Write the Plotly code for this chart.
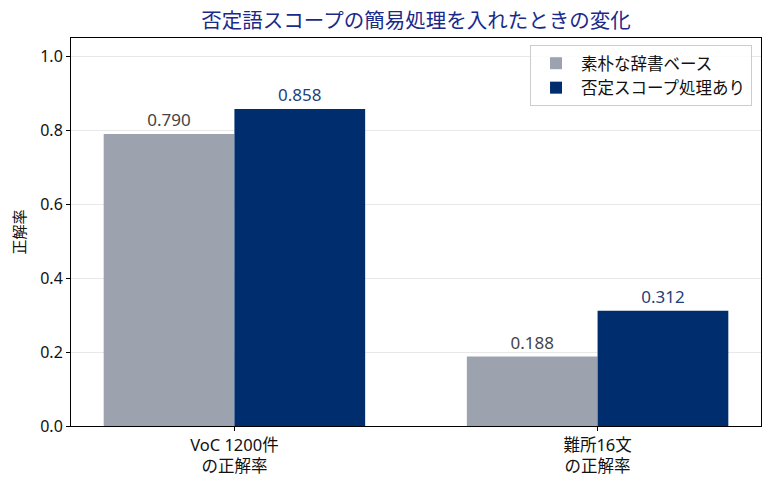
import plotly.graph_objects as go

categories = ["VoC 1200件<br>の正解率", "難所16文<br>の正解率"]
naive_values = [0.790, 0.188]
scope_values = [0.858, 0.312]
series_names = ["素朴な辞書ベース", "否定スコープ処理あり"]
y_ticks = [0.0, 0.2, 0.4, 0.6, 0.8, 1.0]

font_family = "Noto Sans, Noto Sans CJK JP, sans-serif"

fig = go.Figure()
fig.add_trace(go.Bar(
    x=categories, y=naive_values, name=series_names[0],
    marker=dict(color="#9ca3ae", line=dict(width=0)),
    text=[f"{v:.3f}" for v in naive_values], textposition="outside",
    textfont=dict(color="#444444", size=17), cliponaxis=False,
))
fig.add_trace(go.Bar(
    x=categories, y=scope_values, name=series_names[1],
    marker=dict(color="#002d6e", line=dict(width=0)),
    text=[f"{v:.3f}" for v in scope_values], textposition="outside",
    textfont=dict(color="#1f3f7a", size=17), cliponaxis=False,
))

fig.update_layout(
    width=771, height=484,
    margin=dict(l=71, r=10, t=38, b=58),
    paper_bgcolor="white", plot_bgcolor="white",
    font=dict(family=font_family, size=15, color="#111111"),
    title=dict(text="否定語スコープの簡易処理を入れたときの変化",
               xref="paper", x=0.5, xanchor="center", y=0.958, yanchor="middle",
               font=dict(size=20.5, color="#1b2a8a")),
    barmode="group", bargap=0.28, bargroupgap=0,
    legend=dict(x=0.987, y=0.982, xanchor="right", yanchor="top",
                bgcolor="rgba(255,255,255,0.85)", bordercolor="#cccccc",
                borderwidth=1, font=dict(size=16.5), itemwidth=40,
                tracegroupgap=2),
    showlegend=True,
)
fig.update_xaxes(
    range=[-0.45, 1.45], showline=True, linecolor="black", linewidth=1,
    mirror=True, ticks="outside", ticklen=4, tickcolor="black",
    showgrid=False, tickfont=dict(size=16.5), automargin=False,
)
fig.update_yaxes(
    range=[0, 1.05], tickvals=y_ticks, ticktext=[f"{v:.1f}" for v in y_ticks],
    showline=True, linecolor="black", linewidth=1, mirror=True,
    ticks="outside", ticklen=4, tickcolor="black",
    showgrid=True, gridcolor="rgba(0,0,0,0.09)", gridwidth=1,
    zeroline=False, tickfont=dict(size=16), automargin=False,
    title=dict(text="正解率", font=dict(size=15), standoff=10),
    layer="above traces",
)

fig.write_html("out.html", config={"displayModeBar": False},
               post_script="document.body.style.margin='0';")
